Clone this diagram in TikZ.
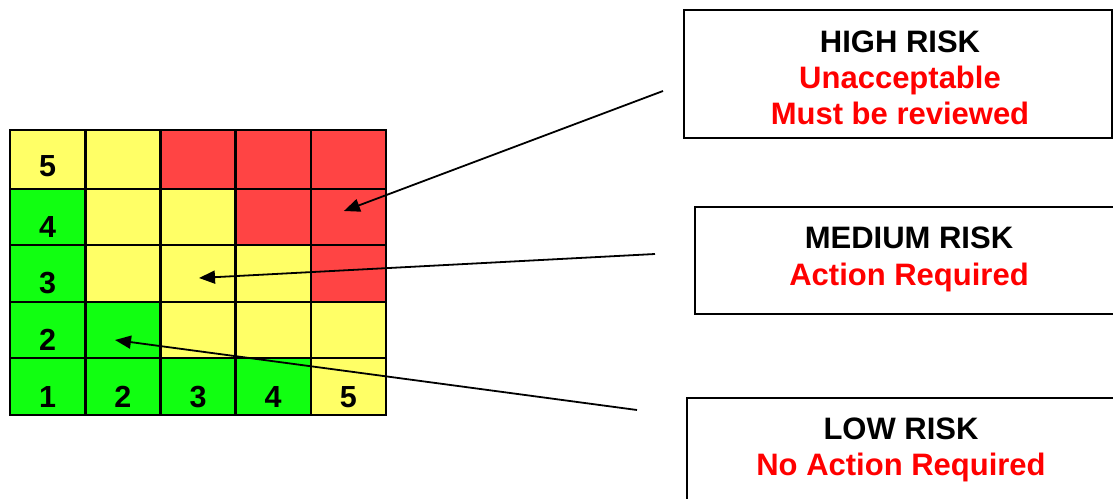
\documentclass[tikz,border=0pt]{standalone}
\usepackage{fontspec}
\setmainfont{Liberation Sans}
\usetikzlibrary{arrows.meta}
\definecolor{rkY}{HTML}{FFFF66}
\definecolor{rkR}{HTML}{FF4444}
\definecolor{rkG}{HTML}{11FF11}
\definecolor{rkT}{HTML}{FF0000}
\newcommand{\rkcell}[5]{%
  \node[cellbox, fill=#5, minimum height={(#4-#3)*1pt}] (#1) at ({10+75.2*(#2-0.5)}, {(#3+#4)/2}) {};}
\begin{document}
\begin{tikzpicture}[x=1pt,y=-1pt,
  cellbox/.style={draw=black, line width=2.6pt, minimum width=75.2pt, inner sep=0pt, outer sep=0pt},
  num/.style={anchor=base, inner sep=0pt, font=\fontsize{30.5}{36}\selectfont\bfseries},
  infobox/.style={draw=black, line width=1.6pt, fill=white, inner sep=0pt},
  head/.style={anchor=base, inner sep=0pt, text=black, font=\fontsize{31}{36}\selectfont\bfseries},
  sub/.style={anchor=base, inner sep=0pt, text=rkT, font=\fontsize{31}{36}\selectfont\bfseries},
  arr/.style={draw=black, line width=1.8pt, -{Triangle[length=16pt,width=13pt]}}]
\useasboundingbox (0,0) rectangle (1113,498);
\clip (0,0) rectangle (1113,498);
% row 5
\rkcell{c51}{1}{130}{189}{rkY}
\rkcell{c52}{2}{130}{189}{rkY}
\rkcell{c53}{3}{130}{189}{rkR}
\rkcell{c54}{4}{130}{189}{rkR}
\rkcell{c55}{5}{130}{189}{rkR}
% row 4
\rkcell{c41}{1}{189}{245}{rkG}
\rkcell{c42}{2}{189}{245}{rkY}
\rkcell{c43}{3}{189}{245}{rkY}
\rkcell{c44}{4}{189}{245}{rkR}
\rkcell{c45}{5}{189}{245}{rkR}
% row 3
\rkcell{c31}{1}{245}{302}{rkG}
\rkcell{c32}{2}{245}{302}{rkY}
\rkcell{c33}{3}{245}{302}{rkY}
\rkcell{c34}{4}{245}{302}{rkY}
\rkcell{c35}{5}{245}{302}{rkR}
% row 2
\rkcell{c21}{1}{302}{358}{rkG}
\rkcell{c22}{2}{302}{358}{rkG}
\rkcell{c23}{3}{302}{358}{rkY}
\rkcell{c24}{4}{302}{358}{rkY}
\rkcell{c25}{5}{302}{358}{rkY}
% row 1
\rkcell{c11}{1}{358}{415}{rkG}
\rkcell{c12}{2}{358}{415}{rkG}
\rkcell{c13}{3}{358}{415}{rkG}
\rkcell{c14}{4}{358}{415}{rkG}
\rkcell{c15}{5}{358}{415}{rkY}
% numbers
\node[num] (n5) at (c51.center |- 0,176) {5};
\node[num] (n4) at (c41.center |- 0,237) {4};
\node[num] (n3) at (c31.center |- 0,293) {3};
\node[num] (n2) at (c21.center |- 0,350) {2};
\node[num] (n1) at (c11.center |- 0,407) {1};
\node[num] (m2) at (c12.center |- 0,407) {2};
\node[num] (m3) at (c13.center |- 0,407) {3};
\node[num] (m4) at (c14.center |- 0,407) {4};
\node[num] (m5) at (c15.center |- 0,407) {5};
% info boxes
\node[infobox, minimum width=428pt, minimum height=128pt] (hbox) at (898,74) {};
\node[infobox, minimum width=419pt, minimum height=107pt] (mbox) at (904.5,260.5) {};
\node[infobox, minimum width=429pt, minimum height=104pt] (lbox) at (901.5,450) {};
\node[head] (htitle) at (900,52) {HIGH RISK};
\node[sub] (hl1) at (900,88) {Unacceptable};
\node[sub] (hl2) at (900,124) {Must be reviewed};
\node[head] (mtitle) at (909,248) {MEDIUM RISK};
\node[sub] (ml1) at (909,285) {Action Required};
\node[head] (ltitle) at (901,439) {LOW RISK};
\node[sub] (ll1) at (901,475) {No Action Required};
% arrows
\coordinate (hs) at (663,91);
\coordinate (ms) at (655,254);
\coordinate (ls) at (637,410);
\draw[arr] (hs) -- ([xshift=-4.5pt,yshift=6pt]c45.center);
\draw[arr] (ms) -- ([xshift=1pt,yshift=-4.5pt]c33.center);
\draw[arr] (ls) -- ([xshift=-7.8pt,yshift=-10pt]c22.center);
\end{tikzpicture}
\end{document}
